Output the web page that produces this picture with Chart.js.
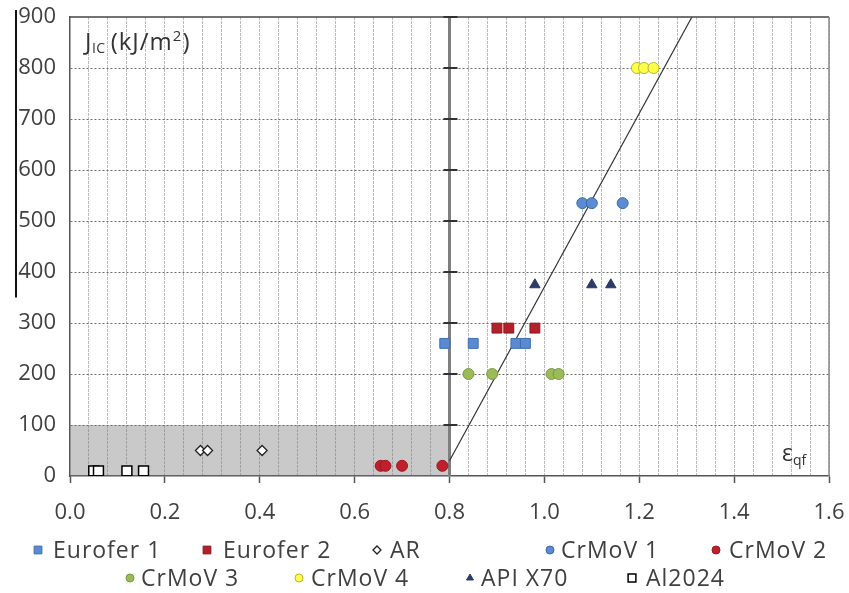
<!DOCTYPE html>
<html>
<head>
<meta charset="utf-8">
<script src="https://cdn.jsdelivr.net/npm/chart.js@4/dist/chart.umd.min.js"></script>
<style>
  body { margin: 0; background: #fff; }
  #wrap { width: 849px; height: 593px; }
</style>
</head>
<body>
<div id="wrap"><canvas id="jicChart" width="849" height="593"></canvas></div>
<script>
// strain at fracture (x) and J_IC in kJ/m2 (y)
const eurofer1X = [0.79, 0.85, 0.94, 0.96];
const eurofer1Y = [260, 260, 260, 260];
const eurofer2X = [0.90, 0.925, 0.98];
const eurofer2Y = [290, 290, 290];
const arX = [0.275, 0.29, 0.405];
const arY = [50, 50, 50];
const crmov1X = [1.08, 1.10, 1.165];
const crmov1Y = [535, 535, 535];
const crmov2X = [0.655, 0.665, 0.70, 0.785];
const crmov2Y = [20, 20, 20, 20];
const crmov3X = [0.84, 0.89, 1.015, 1.03];
const crmov3Y = [200, 200, 200, 200];
const crmov4X = [1.195, 1.21, 1.23];
const crmov4Y = [800, 800, 800];
const apiX70X = [0.98, 1.10, 1.14];
const apiX70Y = [375, 375, 375];
const al2024X = [0.05, 0.06, 0.12, 0.155];
const al2024Y = [10, 10, 10, 10];

// trend line, threshold line at 0.8 and the shaded low-toughness zone
const trendX = [0.8, 1.311];
const trendY = [30, 900];
const limitX = [0.8, 0.8];
const limitY = [0, 900];
const zoneX = [0, 0.8];
const zoneY = [100, 100];

const xTicks = [0, 0.2, 0.4, 0.6, 0.8, 1.0, 1.2, 1.4, 1.6];
const yTicks = [0, 100, 200, 300, 400, 500, 600, 700, 800, 900];

const pts = (xs, ys) => xs.map((x, i) => ({ x: x, y: ys[i] }));
const isMajor = (v) => xTicks.some((t) => Math.abs(t - v) < 1e-6);

const FONT = '"Open Sans", "DejaVu Sans", sans-serif';
const TEXT = '#404040';

const series = [
  { label: 'Eurofer 1', data: pts(eurofer1X, eurofer1Y), pointStyle: 'rect', pointRadius: 7, backgroundColor: '#5a8ad0', borderColor: '#3f6fb0' },
  { label: 'Eurofer 2', data: pts(eurofer2X, eurofer2Y), pointStyle: 'rect', pointRadius: 7, backgroundColor: '#b3202a', borderColor: '#8c1a20' },
  { label: 'AR', data: pts(arX, arY), pointStyle: 'rectRot', pointRadius: 5, backgroundColor: '#ffffff', borderColor: '#222222', borderWidth: 1.3 },
  { label: 'CrMoV 1', data: pts(crmov1X, crmov1Y), pointStyle: 'circle', pointRadius: 5.5, backgroundColor: '#5b8bd0', borderColor: '#3a6aa8' },
  { label: 'CrMoV 2', data: pts(crmov2X, crmov2Y), pointStyle: 'circle', pointRadius: 5.5, backgroundColor: '#c0202c', borderColor: '#9a1820' },
  { label: 'CrMoV 3', data: pts(crmov3X, crmov3Y), pointStyle: 'circle', pointRadius: 5.5, backgroundColor: '#9bbb59', borderColor: '#7a9a40' },
  { label: 'CrMoV 4', data: pts(crmov4X, crmov4Y), pointStyle: 'circle', pointRadius: 5.5, backgroundColor: '#ffff4d', borderColor: '#b8b820' },
  { label: 'API X70', data: pts(apiX70X, apiX70Y), pointStyle: 'triangle', pointRadius: 6, backgroundColor: '#2b3a67', borderColor: '#2b3a67' },
  { label: 'Al2024', data: pts(al2024X, al2024Y), pointStyle: 'rect', pointRadius: 7, backgroundColor: '#ffffff', borderColor: '#000000', borderWidth: 1.5 }
];

const datasets = series.map((s) => ({
  type: 'scatter',
  label: s.label,
  data: s.data,
  pointStyle: s.pointStyle,
  pointRadius: s.pointRadius,
  pointBackgroundColor: s.backgroundColor,
  pointBorderColor: s.borderColor,
  backgroundColor: s.backgroundColor,
  borderColor: s.borderColor,
  pointBorderWidth: s.borderWidth || 1,
  order: 0
}));

datasets.push({
  type: 'line', label: 'trend', data: pts(trendX, trendY),
  borderColor: '#333333', borderWidth: 1.2, pointRadius: 0, fill: false, order: 5
});
datasets.push({
  type: 'line', label: 'limit', data: pts(limitX, limitY),
  borderColor: '#7f7f7f', borderWidth: 3, pointRadius: 0, fill: false, order: 6
});
datasets.push({
  type: 'line', label: 'zone', data: pts(zoneX, zoneY),
  borderWidth: 0, pointRadius: 0, fill: 'origin',
  backgroundColor: 'rgba(120,120,120,0.4)', order: 10
});

// legend layout copied from the figure: [marker x, text x, row y]
const legendSlots = [
  [38, 53, 550], [207, 223, 550], [377, 390, 550], [550, 561, 550], [716, 729, 550],
  [130, 141, 578], [299, 311, 578], [470, 481, 578], [632, 646, 578]
];

const extras = {
  id: 'extras',
  afterDatasetsDraw(chart) {
    const { ctx, chartArea: a, scales } = chart;
    const x = scales.x, y = scales.y;
    ctx.save();

    // frame (top and right sides)
    ctx.strokeStyle = '#444';
    ctx.lineWidth = 1.5;
    ctx.beginPath();
    ctx.moveTo(a.left, a.top);
    ctx.lineTo(a.right, a.top);
    ctx.stroke();
    ctx.strokeStyle = '#888';
    ctx.beginPath();
    ctx.moveTo(a.right, a.top);
    ctx.lineTo(a.right, a.bottom);
    ctx.stroke();

    // cross ticks on the 0.8 line
    const xm = x.getPixelForValue(limitX[0]);
    ctx.strokeStyle = '#333';
    ctx.lineWidth = 2;
    yTicks.forEach((v) => {
      if (v === 0) return;
      const py = y.getPixelForValue(v);
      ctx.beginPath();
      ctx.moveTo(xm - 6, py);
      ctx.lineTo(xm + 8, py);
      ctx.stroke();
    });

    // black bar at the left edge
    ctx.strokeStyle = '#111';
    ctx.lineWidth = 2;
    ctx.beginPath();
    ctx.moveTo(16, a.top - 7);
    ctx.lineTo(16, y.getPixelForValue(350));
    ctx.stroke();

    // axis titles
    ctx.fillStyle = '#333';
    ctx.textBaseline = 'alphabetic';
    ctx.letterSpacing = '0.5px';
    let tx = a.left + 15, ty = a.top + 33;
    ctx.font = '24px ' + FONT;
    ctx.fillText('J', tx, ty);
    tx += ctx.measureText('J').width;
    ctx.font = '14px ' + FONT;
    ctx.fillText('IC', tx, ty + 3);
    tx += ctx.measureText('IC').width + 5;
    ctx.letterSpacing = '1px';
    ctx.font = '24px ' + FONT;
    ctx.fillText('(kJ/m', tx, ty);
    tx += ctx.measureText('(kJ/m').width;
    ctx.font = '15px ' + FONT;
    ctx.fillText('2', tx, ty - 9);
    tx += ctx.measureText('2').width;
    ctx.font = '24px ' + FONT;
    ctx.fillText(')', tx, ty);

    ctx.letterSpacing = '0px';
    tx = a.right - 47; ty = a.bottom - 15;
    ctx.font = '23px ' + FONT;
    ctx.fillText('\u03b5', tx, ty);
    tx += ctx.measureText('\u03b5').width;
    ctx.font = '14px ' + FONT;
    ctx.fillText('qf', tx, ty + 4);

    // legend
    ctx.font = '23px ' + FONT;
    ctx.letterSpacing = '1px';
    ctx.textBaseline = 'middle';
    series.forEach((s, i) => {
      const [mx, lx, ly] = legendSlots[i];
      ctx.fillStyle = s.backgroundColor;
      ctx.strokeStyle = s.borderColor;
      ctx.lineWidth = s.borderWidth || 1;
      Chart.helpers.drawPoint(ctx, {
        pointStyle: s.pointStyle,
        radius: s.pointStyle === 'rect' ? 5.5 : 4,
        rotation: 0,
        borderWidth: s.borderWidth || 1
      }, mx, ly);
      ctx.fillStyle = TEXT;
      ctx.fillText(s.label, lx, ly + 1);
    });
    ctx.restore();
  }
};

new Chart(document.getElementById('jicChart'), {
  type: 'scatter',
  data: { datasets: datasets },
  options: {
    responsive: false,
    animation: false,
    layout: { padding: { top: 17, right: 20, left: 0, bottom: 0 } },
    plugins: {
      legend: { display: false },
      tooltip: { enabled: false }
    },
    scales: {
      x: {
        type: 'linear',
        min: 0,
        max: 1.6,
        afterFit: (scale) => {
          scale.height = 117;
          scale.paddingLeft = 0;
          scale.paddingRight = 0;
        },
        border: { color: '#555', width: 1.5, dash: [3, 1] },
        grid: {
          color: (c) => (c.tick && c.tick.value > 0 ? 'rgba(120,120,120,0.5)' : 'transparent'),
          lineWidth: 1,
          tickLength: 7,
          tickColor: (c) => (c.tick && isMajor(c.tick.value) ? '#555' : 'transparent'),
          tickWidth: 1.5
        },
        ticks: {
          stepSize: 0.04,
          autoSkip: false,
          maxRotation: 0,
          padding: 17,
          color: TEXT,
          font: { family: FONT, size: 22 },
          callback: (v) => (isMajor(v) ? Number(v).toFixed(1) : '')
        }
      },
      y: {
        type: 'linear',
        min: 0,
        max: 900,
        afterFit: (scale) => {
          scale.width = 70;
          scale.paddingTop = 0;
          scale.paddingBottom = 0;
        },
        border: { color: '#555', width: 1.5, dash: [2, 2] },
        grid: {
          color: (c) => (c.tick && c.tick.value > 0 && c.tick.value < 900 ? '#6a6a6a' : 'transparent'),
          lineWidth: 1,
          drawTicks: false
        },
        ticks: {
          stepSize: 100,
          padding: 14,
          color: TEXT,
          font: { family: FONT, size: 22 }
        }
      }
    }
  },
  plugins: [extras]
});
</script>
</body>
</html>
